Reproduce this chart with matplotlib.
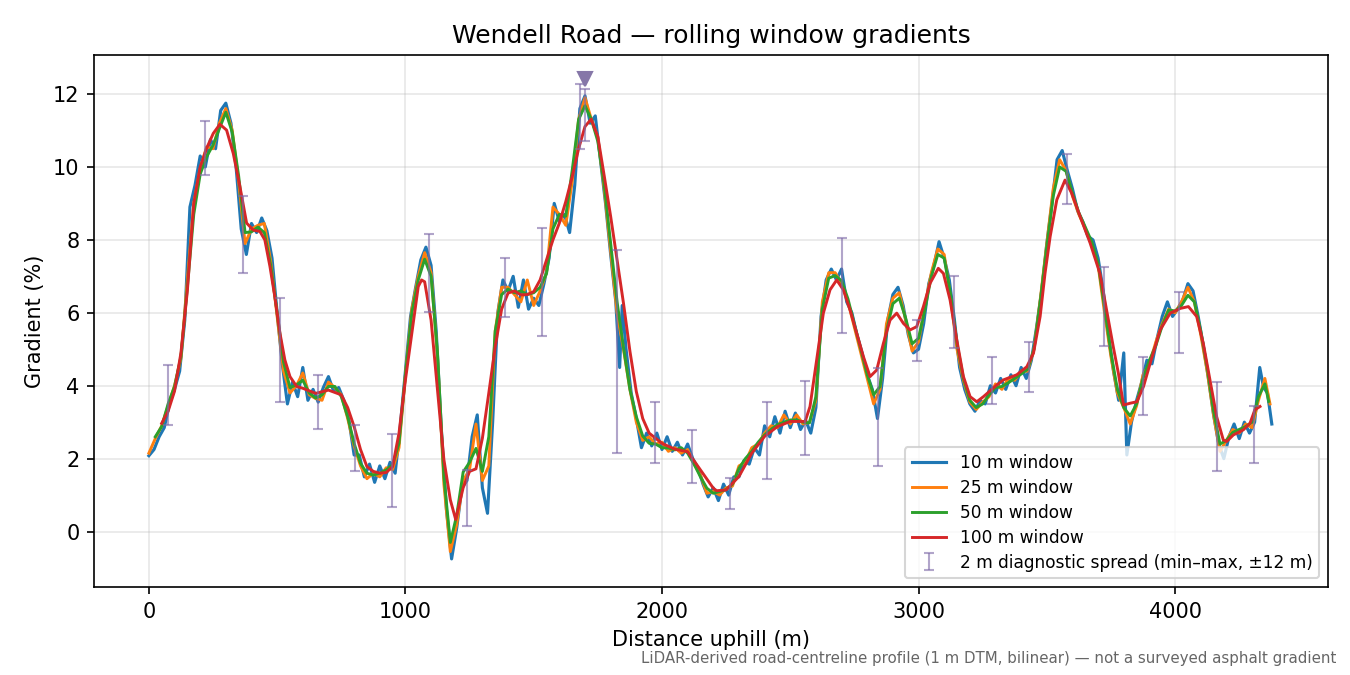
import numpy as np
import matplotlib
matplotlib.use('Agg')
import matplotlib.pyplot as plt

# --- 10 m window (20 m steps + a few extra spikes)
dist_10 = (list(range(0, 1821, 20)) + [1835, 1845] + list(range(1860, 3801, 20))
           + [3812] + list(range(3830, 4331, 20)) + [4345, 4360, 4377])
grad_10 = [
    2.08, 2.25, 2.6, 2.85, 3.5, 3.9, 4.4, 5.8, 8.9, 9.5,
    10.3, 10.0, 10.75, 10.5, 11.55, 11.75, 11.2, 10.0, 8.3, 7.6,
    8.45, 8.2, 8.6, 8.25, 7.5, 6.0, 4.6, 3.5, 4.1, 3.7,
    4.5, 3.6, 3.9, 3.55, 3.95, 4.25, 3.85, 3.95, 3.6, 3.05,
    2.1, 2.1, 1.5, 1.85, 1.35, 1.8, 1.45, 1.9, 1.6, 2.9,
    4.4, 5.9, 6.7, 7.45, 7.8, 7.3, 5.5, 2.8, 0.6, -0.75,
    0.1, 1.2, 1.4, 2.6, 3.2, 1.2, 0.5, 3.0, 6.0, 6.9,
    6.6, 7.0, 6.15, 6.9, 6.1, 6.4, 6.2, 6.8, 7.5, 9.0,
    8.5, 8.7, 8.2, 9.5, 11.6, 11.95, 11.2, 11.4, 10.2, 9.0,
    7.6, 6.3,
    4.5, 6.2,
    5.0, 3.8, 3.1, 2.3, 2.7, 2.35, 2.7, 2.25, 2.6, 2.2,
    2.45, 2.1, 2.4, 2.0, 1.75, 1.3, 0.95, 1.2, 0.85, 1.3,
    1.0, 1.5, 1.5, 1.95, 1.85, 2.3, 2.1, 2.9, 2.6, 3.15,
    2.7, 3.3, 2.85, 3.25, 2.8, 3.05, 2.7, 3.4, 5.9, 6.9,
    7.2, 6.9, 7.2, 6.3, 6.0, 5.4, 4.9, 4.3, 3.9, 3.1,
    4.2, 5.8, 6.5, 6.7, 6.2, 5.4, 4.9, 5.0, 5.7, 6.8,
    7.3, 7.95, 7.5, 6.9, 5.8, 4.5, 3.9, 3.5, 3.3, 3.6,
    3.5, 4.0, 3.8, 4.2, 3.9, 4.3, 4.0, 4.5, 4.2, 4.7,
    5.6, 6.6, 7.9, 9.0, 10.2, 10.45, 9.9, 9.4, 8.8, 8.5,
    8.1, 8.0, 7.5, 6.6, 5.4, 4.4, 3.6, 4.9,
    2.1,
    3.0, 3.6, 4.1, 4.7, 4.6, 5.3, 5.9, 6.3, 5.9, 6.1,
    6.35, 6.8, 6.6, 5.9, 5.1, 4.2, 3.2, 2.4, 2.0, 2.6,
    2.95, 2.55, 3.0, 2.7, 3.0, 4.5,
    3.95, 3.8, 2.95,
]

# --- 25 m window (25 m steps)
dist_25 = list(range(0, 4351, 25)) + [4370]
grad_25 = [
    2.15, 2.55, 2.9, 3.45, 4.0, 4.75, 6.9, 9.0,
    9.95, 10.55, 10.5, 11.2, 11.6, 11.0, 9.6, 7.9,
    8.3, 8.4, 8.45, 7.4, 5.9, 4.4, 3.8, 4.0,
    4.35, 3.75, 3.65, 3.6, 4.1, 3.95, 3.75, 3.1,
    2.35, 1.8, 1.45, 1.6, 1.5, 1.75, 1.7, 2.3,
    4.3, 6.1, 7.0, 7.65, 7.1, 4.8, 1.3, -0.55,
    0.2, 1.4, 1.7, 2.95, 1.4, 1.8, 5.5, 6.7,
    6.7, 6.5, 6.3, 6.9, 6.2, 6.6, 7.1, 8.9,
    8.7, 8.4, 9.6, 11.3, 11.9, 11.3, 10.8, 9.4,
    7.7, 6.0, 5.0, 3.9, 3.0, 2.5, 2.6, 2.4,
    2.45, 2.2, 2.3, 2.15, 2.25, 1.85, 1.55, 1.05,
    1.1, 1.0, 1.2, 1.25, 1.8, 1.9, 2.3, 2.4,
    2.7, 2.9, 2.85, 3.2, 2.95, 3.2, 2.95, 3.0,
    3.6, 6.3, 7.1, 7.1, 6.8, 6.3, 5.6, 4.9,
    4.2, 3.5, 3.9, 5.7, 6.4, 6.55, 5.8, 4.95,
    5.2, 6.2, 7.1, 7.75, 7.6, 6.4, 5.0, 4.15,
    3.55, 3.35, 3.55, 3.7, 4.05, 3.9, 4.2, 4.15,
    4.4, 4.4, 5.0, 6.4, 7.9, 9.4, 10.2, 9.9,
    9.2, 8.7, 8.3, 7.9, 7.3, 6.0, 4.8, 3.8,
    3.4, 2.95, 3.45, 4.3, 4.6, 5.2, 5.7, 6.1,
    6.0, 6.3, 6.7, 6.3, 5.4, 4.4, 3.2, 2.2,
    2.5, 2.8, 2.7, 2.95, 2.85, 3.6, 4.2,
    3.5,
]

# --- 50 m window (25 m steps)
dist_50 = list(range(25, 4351, 25)) + [4365]
grad_50 = [
    2.6, 2.88, 3.5, 3.98, 4.8, 6.7, 8.7, 9.8,
    10.28, 10.6, 11.05, 11.5, 10.95, 9.75, 8.2, 8.22,
    8.35, 8.2, 7.3, 6.0, 4.65, 3.95, 4.02, 4.15,
    3.8, 3.66, 3.75, 3.98, 3.98, 3.7, 3.15, 2.42,
    1.87, 1.6, 1.55, 1.6, 1.69, 1.83, 2.42, 4.3,
    6.0, 6.9, 7.47, 7.0, 4.9, 1.5, -0.3, 0.45,
    1.63, 1.9, 2.28, 1.65, 2.6, 5.5, 6.5, 6.65,
    6.55, 6.6, 6.5, 6.55, 6.7, 7.08, 8.3, 8.7,
    8.65, 9.9, 11.3, 11.68, 11.3, 10.7, 9.5, 7.9,
    6.3, 5.05, 3.9, 3.15, 2.62, 2.42, 2.4, 2.3,
    2.29, 2.24, 2.3, 2.15, 1.85, 1.5, 1.19, 1.05,
    1.1, 1.15, 1.3, 1.73, 2.0, 2.2, 2.45, 2.65,
    2.8, 2.93, 3.0, 3.06, 3.06, 3.0, 2.98, 3.7,
    6.1, 6.95, 7.02, 6.88, 6.38, 5.68, 5.0, 4.3,
    3.75, 3.98, 5.5, 6.25, 6.4, 5.85, 5.15, 5.3,
    6.1, 7.0, 7.6, 7.5, 6.5, 5.15, 4.2, 3.6,
    3.4, 3.5, 3.75, 3.95, 3.98, 4.08, 4.2, 4.32,
    4.45, 5.0, 6.35, 7.82, 9.2, 10.0, 9.88, 9.28,
    8.74, 8.35, 7.95, 7.35, 6.15, 4.9, 3.9, 3.4,
    3.17, 3.5, 4.2, 4.7, 5.1, 5.65, 6.08, 6.05,
    6.2, 6.48, 6.3, 5.5, 4.5, 3.3, 2.4, 2.5,
    2.72, 2.8, 2.88, 3.0, 3.7, 4.05,
    3.57,
]

# --- 100 m window
dist_100 = [50, 75, 100, 125, 150, 175, 200, 225, 251, 277, 303, 329, 355, 381, 407,
            433, 452, 472, 491, 511, 530, 550, 576, 600, 650, 700, 750, 775, 800, 825,
            850, 875, 900, 925, 950, 975, 1000, 1025, 1050, 1063, 1075, 1100, 1125,
            1150, 1175, 1196, 1225, 1250, 1275, 1300, 1325, 1350, 1375, 1400, 1425,
            1450, 1475, 1500, 1525, 1550, 1575, 1600, 1625, 1650, 1675, 1700, 1724,
            1750, 1775, 1800, 1825, 1850, 1875, 1900, 1925, 1950, 2000, 2050, 2100,
            2150, 2200, 2213, 2250, 2300, 2350, 2400, 2450, 2500, 2558, 2577, 2603,
            2629, 2655, 2681, 2707, 2733, 2759, 2785, 2811, 2837, 2863, 2889, 2915,
            2941, 2967, 2993, 3019, 3045, 3077, 3097, 3123, 3149, 3175, 3201, 3227,
            3253, 3279, 3305, 3331, 3383, 3422, 3448, 3474, 3493, 3513, 3539, 3571,
            3597, 3630, 3669, 3707, 3733, 3759, 3779, 3799, 3825, 3851, 3877, 3903,
            3942, 3981, 4020, 4052, 4084, 4110, 4136, 4162, 4188, 4201, 4227, 4266,
            4292, 4311, 4331]
grad_100 = [2.97, 3.3, 3.85, 4.9, 6.6, 9.0, 10.0, 10.51, 10.92, 11.17, 11.01, 10.37,
            9.46, 8.46, 8.27, 8.23, 8.0, 7.27, 6.44, 5.44, 4.71, 4.25, 3.98, 3.93,
            3.79, 3.88, 3.75, 3.4, 2.88, 2.25, 1.78, 1.65, 1.6, 1.62, 1.78, 2.7,
            4.16, 5.44, 6.72, 6.9, 6.85, 5.8, 3.9, 1.97, 0.87, 0.33, 1.2, 1.65,
            1.72, 2.56, 3.8, 5.07, 6.1, 6.54, 6.6, 6.49, 6.5, 6.58, 6.9, 7.45, 8.0,
            8.46, 9.05, 9.73, 10.5, 11.11, 11.31, 10.83, 9.75, 8.64, 7.45, 6.26,
            4.95, 3.84, 3.1, 2.7, 2.42, 2.26, 2.19, 1.69, 1.19, 1.12, 1.14, 1.51,
            2.15, 2.61, 2.88, 3.02, 3.02, 3.43, 4.71, 5.99, 6.63, 6.90, 6.63, 6.08,
            5.44, 4.80, 4.25, 4.43, 5.16, 5.80, 5.99, 5.71, 5.53, 5.62, 6.17, 6.81,
            7.22, 7.08, 6.35, 5.26, 4.25, 3.70, 3.56, 3.70, 3.86, 4.02, 4.16, 4.30,
            4.52, 4.89, 5.90, 7.08, 8.09, 9.10, 9.64, 9.28, 8.64, 7.91, 7.08, 6.08,
            5.07, 4.34, 3.47, 3.52, 3.56, 3.98, 4.62, 5.53, 5.99, 6.12, 6.17, 5.90,
            5.16, 4.16, 3.15, 2.51, 2.47, 2.65, 2.79, 2.97, 3.34, 3.43]

# --- 2 m diagnostic spread (min-max within +-12 m)
spread_x = [73, 217, 365, 510, 658, 802, 946, 1093, 1239, 1387, 1531, 1680, 1823,
            1973, 2117, 2265, 2408, 2556, 2701, 2843, 2993, 3138, 3287, 3431, 3578,
            3723, 3873, 4017, 4163, 4308]
spread_lo = [2.93, 9.78, 7.10, 3.54, 2.82, 1.65, 0.66, 6.03, 0.16, 5.89, 5.36, 10.48,
             2.16, 1.89, 1.32, 0.61, 1.44, 2.11, 5.45, 1.81, 4.67, 5.04, 3.50, 3.83,
             8.99, 5.08, 3.20, 4.91, 1.67, 1.88]
spread_hi = [4.57, 11.27, 9.21, 6.41, 4.30, 2.91, 2.68, 8.16, 1.70, 7.51, 8.32, 12.28,
             7.72, 3.55, 2.79, 1.46, 3.55, 4.13, 8.05, 4.48, 5.80, 7.02, 4.80, 5.19,
             10.36, 7.26, 4.80, 6.58, 4.11, 3.44]

# steepest point marker
peak_x = 1700
peak_y = 12.4
peak_lo = 10.7
peak_hi = 12.15

spread_color = '#7d6aa8'

fig = plt.figure(figsize=(9, 4.5), dpi=150)
ax = fig.add_axes([0.0696, 0.1304, 0.9141, 0.7881])

ax.plot(dist_10, grad_10, color='tab:blue', lw=1.5, label='10 m window', zorder=2)
ax.plot(dist_25, grad_25, color='tab:orange', lw=1.4, label='25 m window', zorder=3)
ax.plot(dist_50, grad_50, color='tab:green', lw=1.4, label='50 m window', zorder=4)
ax.plot(dist_100, grad_100, color='tab:red', lw=1.4, label='100 m window', zorder=5)

lo = np.array(spread_lo)
hi = np.array(spread_hi)
mid = (lo + hi) / 2
ax.errorbar(spread_x, mid, yerr=[mid - lo, hi - mid], fmt='none', ecolor=spread_color,
            elinewidth=1, capsize=2.5, alpha=0.6, zorder=6,
            label='2 m diagnostic spread (min\u2013max, \u00b112 m)')
pmid = (peak_lo + peak_hi) / 2
ax.errorbar([peak_x], [pmid], yerr=[[pmid - peak_lo], [peak_hi - pmid]], fmt='none',
            ecolor=spread_color, elinewidth=1, capsize=2.5, alpha=0.6, zorder=6)
ax.plot([peak_x], [peak_y], marker='v', ms=7, color='#8677a8', ls='none', zorder=7)

ax.set_xlim(-214, 4596)
ax.set_ylim(-1.52, 13.07)
ax.grid(True, color='#b0b0b0', alpha=0.3, lw=0.8)
ax.set_axisbelow(True)

ax.set_title('Wendell Road \u2014 rolling window gradients', fontsize=12)
ax.set_xlabel('Distance uphill (m)')
ax.set_ylabel('Gradient (%)')
ax.legend(loc='lower right', fontsize=8.2, labelspacing=0.4)

fig.text(0.9896, 0.013,
         'LiDAR-derived road-centreline profile (1 m DTM, bilinear) \u2014 not a surveyed asphalt gradient',
         ha='right', va='bottom', fontsize=7.2, color='#666666')

fig.savefig('out.png', dpi=150)
